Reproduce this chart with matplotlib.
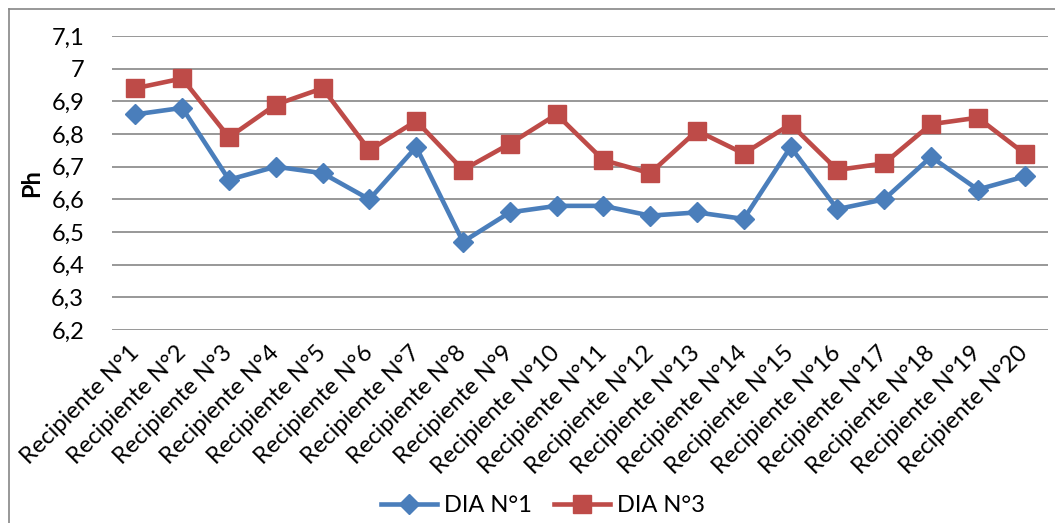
import matplotlib
matplotlib.use("Agg")
import matplotlib.pyplot as plt
from matplotlib.lines import Line2D
from matplotlib.ticker import FuncFormatter

categories = [f"Recipiente N°{i}" for i in range(1, 21)]
dia1 = [6.86, 6.88, 6.66, 6.70, 6.68, 6.60, 6.76, 6.47, 6.56, 6.58,
        6.58, 6.55, 6.56, 6.54, 6.76, 6.57, 6.60, 6.73, 6.63, 6.67]
dia3 = [6.94, 6.97, 6.79, 6.89, 6.94, 6.75, 6.84, 6.69, 6.77, 6.86,
        6.72, 6.68, 6.81, 6.74, 6.83, 6.69, 6.71, 6.83, 6.85, 6.74]
yticks = [6.2, 6.3, 6.4, 6.5, 6.6, 6.7, 6.8, 6.9, 7.0, 7.1]

plt.rcParams['font.family'] = ['Lato', 'DejaVu Sans']

W, H = 1055, 523
fig = plt.figure(figsize=(W / 100, H / 100), dpi=100)
ax = fig.add_axes([112 / W, 1 - 330 / H, (1048 - 112) / W, (330 - 36) / H])

blue = '#4A7EBB'
red = '#BE4B48'
x = list(range(len(categories)))
ax.plot(x, dia1, color=blue, lw=3.3, marker='D', ms=10, mec=blue, mfc=blue,
        label='DIA N°1', zorder=3)
ax.plot(x, dia3, color=red, lw=3.3, marker='s', ms=13.5, mec=red, mfc=red,
        label='DIA N°3', zorder=3)

ax.set_xlim(-0.5, len(categories) - 0.5)
ax.set_ylim(6.2, 7.1)
ax.set_yticks(yticks)
ax.yaxis.set_major_formatter(FuncFormatter(
    lambda v, p: ('%g' % round(v, 1)).replace('.', ',')))
ax.grid(axis='y', color='#868686', lw=1.2, zorder=0)
ax.set_axisbelow(True)
for s in ax.spines.values():
    s.set_visible(False)
ax.tick_params(axis='y', length=0, pad=20, labelsize=17)
ax.tick_params(axis='x', length=0, pad=14, labelsize=17)
ax.set_xticks(x)
ax.set_xticklabels(categories, rotation=45, ha='right', va='center',
                   rotation_mode='anchor')
ax.set_ylabel('Ph', fontsize=17, fontweight='bold', labelpad=6)

fig.legend(loc='center', bbox_to_anchor=(543 / W, 1 - 506 / H), ncol=2,
           frameon=False, fontsize=17, handlelength=2.4, columnspacing=0.9,
           handletextpad=0.3, borderaxespad=0)

# outer chart border (left and top visible)
fig.add_artist(Line2D([8.5 / W, 8.5 / W], [0, 1 - 9.3 / H], color='#868686',
                      lw=1.2, transform=fig.transFigure))
fig.add_artist(Line2D([8.5 / W, 1], [1 - 9.3 / H, 1 - 9.3 / H], color='#868686',
                      lw=1.2, transform=fig.transFigure))

fig.savefig('out.png', dpi=100)
